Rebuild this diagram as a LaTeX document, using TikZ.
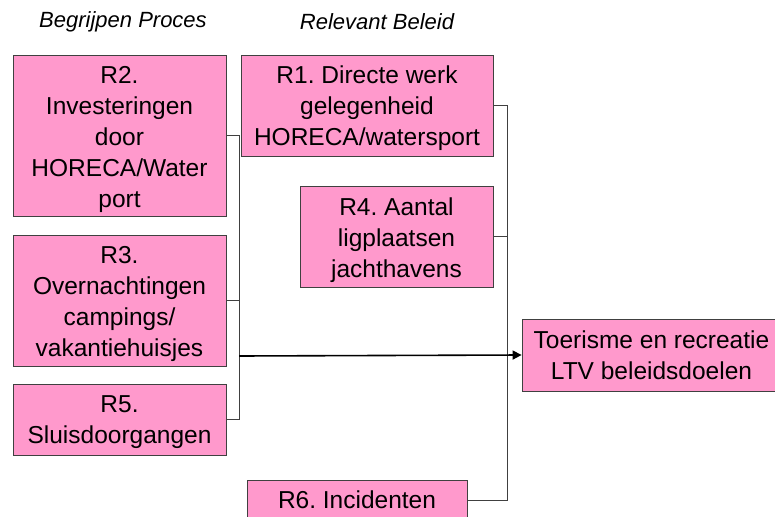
\documentclass[tikz,border=0pt]{standalone}
\usepackage{fontspec}
\setmainfont{Liberation Sans}
\frenchspacing
\usetikzlibrary{arrows.meta}
\definecolor{boxpink}{HTML}{FF99CC}
\definecolor{edgegrey}{HTML}{404040}
\tikzset{
  rbox/.style={draw=edgegrey, line width=0.8pt, fill=boxpink, inner sep=0pt},
  rtext/.style={inner sep=0pt, align=center, font=\fontsize{24.5}{31}\selectfont},
  header/.style={font=\fontsize{22}{26}\selectfont\itshape},
  link/.style={draw=edgegrey, line width=0.9pt},
  mainarrow/.style={draw=black, line width=1.6pt, -{Triangle[length=9pt,width=9pt]}}
}
\begin{document}
\begin{tikzpicture}[x=1pt,y=-1pt]
  \useasboundingbox (0,0) rectangle (775,516);
  \clip (0,0) rectangle (775,516);
  \fill[white] (0,0) rectangle (775,516);

  % column headers
  \node[header] (h1) at (123,22) {Begrijpen Proces};
  \node[header] (h2) at (377,22) {Relevant Beleid};

  % left column: process understanding
  \node[rbox, minimum width=213pt, minimum height=161pt] (r2) at (119.5,135.5) {};
  \node[rtext] (r2t) at ([yshift=-4pt]r2.center)
    {R2.\\Investeringen\\door\\HORECA/Water\\port};
  \node[rbox, minimum width=213pt, minimum height=131pt] (r3) at (119.5,300.5) {};
  \node[rtext] (r3t) at ([yshift=-3.5pt]r3.center)
    {R3.\\Overnachtingen\\campings/\\vakantiehuisjes};
  \node[rbox, minimum width=213pt, minimum height=71pt] (r5) at (119.5,419.5) {};
  \node[rtext] (r5t) at ([yshift=-3pt]r5.center)
    {R5.\\Sluisdoorgangen};

  % middle column: relevant policy
  \node[rbox, minimum width=252pt, minimum height=101pt] (r1) at (367,105.5) {};
  \node[rtext] (r1t) at ([yshift=-3pt]r1.center)
    {R1. Directe werk\\gelegenheid\\HORECA/watersport};
  \node[rbox, minimum width=193pt, minimum height=101pt] (r4) at (396.5,236.5) {};
  \node[rtext] (r4t) at ([yshift=-4pt]r4.center)
    {R4. Aantal\\ligplaatsen\\jachthavens};
  \node[rbox, minimum width=220pt, minimum height=40pt] (r6) at (357,500) {};
  \node[rtext] (r6t) at (r6.center) {R6. Incidenten};

  % goal
  \node[rbox, minimum width=259pt, minimum height=72pt] (goal) at (651.5,355) {};
  \node[rtext] (goalt) at (goal.center)
    {Toerisme en recreatie\\LTV beleidsdoelen};

  % bracket junctions
  \coordinate (lj) at (239,356);
  \coordinate (rj) at (507,356);

  \draw[link] (r2.east) -| (lj);
  \draw[link] (r3.east) -| (lj);
  \draw[link] (r5.east) -| (lj);

  \draw[link] (r1.east) -| (rj);
  \draw[link] (r4.east) -| (rj);
  \draw[link] (r6.east) -| (rj);

  \draw[mainarrow] (lj) -- (goal.west);
\end{tikzpicture}
\end{document}
